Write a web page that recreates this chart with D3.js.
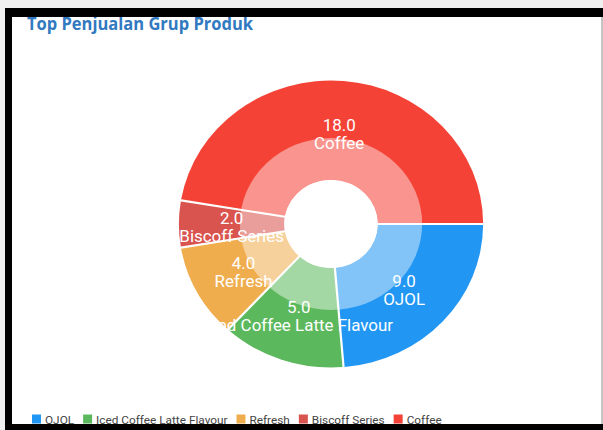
<!DOCTYPE html>
<html>
<head>
<meta charset="utf-8">
<script src="https://cdn.jsdelivr.net/npm/d3@7"></script>
<style>
  body { margin: 0; background: #f0f0f0; }
  svg { display: block; }
</style>
</head>
<body>
<script>
/* global d3 */

const title = 'Top Penjualan Grup Produk';
const categories = ['OJOL', 'Iced Coffee Latte Flavour', 'Refresh', 'Biscoff Series', 'Coffee'];
const values = [9, 5, 4, 2, 18];
const colors = ['#2196f3', '#5cb85c', '#f0ad4e', '#d9534f', '#f44336'];

const width = 603;
const height = 430;

// the screenshot is a little wider than tall, so the donut is stretched
const stretchX = 1.06;
const center = { x: 331, y: 224 };
const outerRadius = 143.5;
const holeRadius = 44;
const glassRadius = 86;
const labelRadius = (outerRadius + holeRadius) / 2;

const svg = d3.select('body').append('svg')
  .attr('width', width)
  .attr('height', height);

// window frame
svg.append('rect')
  .attr('width', width).attr('height', height)
  .attr('fill', '#f0f0f0');
svg.append('rect')
  .attr('x', 5).attr('y', 8)
  .attr('width', width - 5).attr('height', height - 8)
  .attr('fill', '#000');
svg.append('rect')
  .attr('x', 12).attr('y', 17)
  .attr('width', 589).attr('height', 407)
  .attr('fill', '#fff');
svg.append('rect')
  .attr('x', 601).attr('y', 17)
  .attr('width', 2).attr('height', 407)
  .attr('fill', '#c4c4c4');

svg.append('clipPath').attr('id', 'inside')
  .append('rect')
    .attr('x', 12).attr('y', 17)
    .attr('width', 589).attr('height', 407);

const content = svg.append('g').attr('clip-path', 'url(#inside)');

content.append('text')
  .attr('x', 27)
  .attr('y', 29.5)
  .attr('font-family', '"Open Sans", sans-serif')
  .attr('font-weight', 'bold')
  .attr('font-size', 18)
  .attr('textLength', 226)
  .attr('lengthAdjust', 'spacingAndGlyphs')
  .attr('fill', '#3179c0')
  .text(title);

const data = categories.map((name, i) => ({ name, value: values[i], color: colors[i] }));

const pie = d3.pie()
  .sort(null)
  .value(d => d.value)
  .startAngle(Math.PI / 2)
  .endAngle(Math.PI / 2 + Math.PI * 2);

const arc = d3.arc()
  .innerRadius(holeRadius)
  .outerRadius(outerRadius)
  .padAngle(0.014);

const labelArc = d3.arc()
  .innerRadius(labelRadius)
  .outerRadius(labelRadius);

const chart = content.append('g')
  .attr('transform', `translate(${center.x},${center.y}) scale(${stretchX},1)`);

const arcs = pie(data);

chart.selectAll('path.slice').data(arcs)
  .enter().append('path')
    .attr('class', 'slice')
    .attr('d', arc)
    .attr('fill', d => d.data.color);

// translucent inner ring and the hole
chart.append('circle')
  .attr('r', glassRadius)
  .attr('fill', '#fff')
  .attr('fill-opacity', 0.44);
chart.append('circle')
  .attr('r', holeRadius)
  .attr('fill', '#fff');

const labels = chart.selectAll('g.label').data(arcs)
  .enter().append('g')
    .attr('class', 'label')
    .attr('transform', d => `translate(${labelArc.centroid(d)})`)
    .attr('font-family', 'Roboto, sans-serif')
    .attr('font-size', 16)
    .attr('fill', '#fff')
    .attr('text-anchor', 'middle');

labels.append('text')
  .text(d => d3.format('.1f')(d.data.value));
labels.append('text')
  .attr('y', 18)
  .text(d => d.data.name);

// legend along the bottom
const legend = content.append('g')
  .attr('font-family', 'Roboto, sans-serif')
  .attr('font-size', 11.8)
  .attr('fill', '#444');

let x = 32;
data.forEach((d) => {
  legend.append('rect')
    .attr('x', x).attr('y', 414.5)
    .attr('width', 9).attr('height', 9)
    .attr('fill', d.color);
  const t = legend.append('text')
    .attr('x', x + 13)
    .attr('y', 423.5)
    .text(d.name);
  x += 13 + t.node().getComputedTextLength() + 9;
});
</script>
</body>
</html>
